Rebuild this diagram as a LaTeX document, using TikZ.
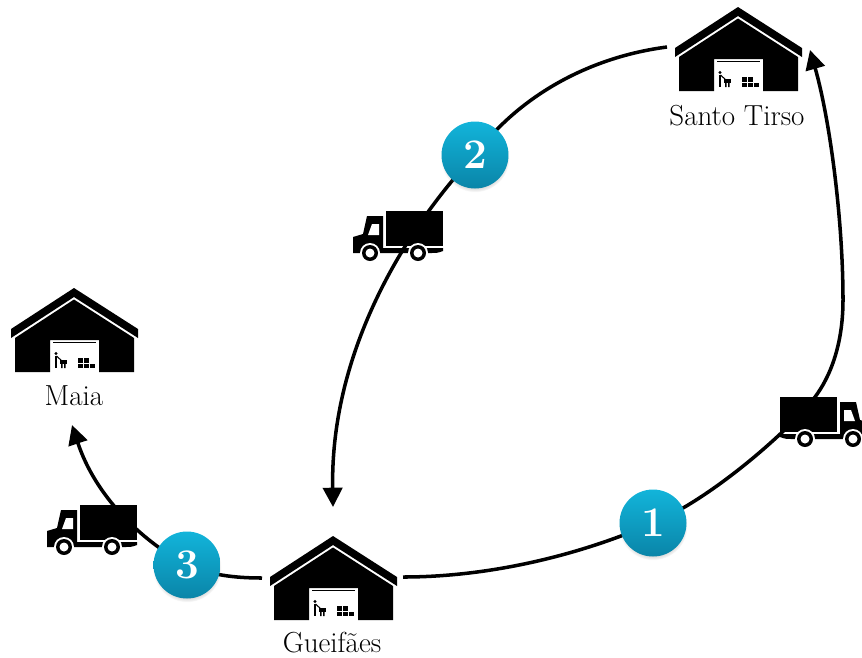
\documentclass[tikz,border=0pt]{standalone}
\usetikzlibrary{arrows.meta,shadows,backgrounds}
\definecolor{badgetop}{HTML}{12B4DA}
\definecolor{badgebottom}{HTML}{0A85A8}
\tikzset{
  route/.style={line width=2pt, black},
  routearrow/.style={route, -{Triangle[length=11pt, width=11pt]}},
  badge/.style={circle, minimum size=1.34cm, inner sep=0pt, top color=badgetop, bottom color=badgebottom,
    circular drop shadow={shadow xshift=0pt, shadow yshift=-1.5pt, shadow scale=1.03, opacity=0.35},
    text=white, font=\fontsize{24}{24}\selectfont\bfseries},
  place/.style={inner sep=0pt, font=\fontsize{16.5}{18}\selectfont},
  pics/depot/.style={code={
    \fill (-63,41) -- (0,0) -- (64,41) -- (64,50) -- (0,9) -- (-63,50) -- cycle;
    \fill (-59,50) -- (0,11.5) -- (60,50) -- (60,84) -- (25,84) -- (25,52) -- (-24,52) -- (-24,84) -- (-59,84) -- cycle;
    \fill (-21,53.5) rectangle (22,55);
    % man with trolley
    \fill (-18,65.5) circle [radius=1.6];
    \fill (-19.2,67.5) rectangle (-17.2,80);
    \draw[line width=0.6pt] (-17.5,68) -- (-12,73);
    \fill (-14,72) rectangle (-7,76);
    \fill (-13,76) rectangle (-11.3,80) (-10,76) rectangle (-8.3,80);
    % boxes
    \foreach \bx/\by in {4/70, 10/70, 4/75.5, 10/75.5, 16/75.5}
      \fill (\bx,\by) rectangle +(5.2,4.7);
  }},
  pics/truck/.style={code={
    \fill (0,0) rectangle (57,35);
    \fill (-33,42) -- (-33,26) -- (-23,23) -- (-19,5) -- (-3,5) -- (-3,37) -- (57,37) -- (57,40)
      .. controls (52,42) and (50,42) .. (45,42) -- cycle;
    \fill[white] (-18,24) -- (-14,13) -- (-7,13) -- (-7,24) -- cycle;
    \foreach \wx in {-16,32} {
      \fill[white] (\wx,42) circle [radius=10];
      \fill (\wx,42) circle [radius=8];
      \fill[white] (\wx,42) circle [radius=4.5];
    }
  }},
}
\begin{document}
\begin{tikzpicture}[x=0.02cm, y=-0.02cm]
  \useasboundingbox (0,0) rectangle (862,657);

  \coordinate (gueifaes out) at (403,577);
  \coordinate (gueifaes in) at (333,507);
  \coordinate (gueifaes back) at (262,578);
  \coordinate (tirso in) at (810,50);
  \coordinate (tirso out) at (667,47);
  \coordinate (maia in) at (72,425);
  \coordinate (bend low) at (815,397);
  \coordinate (bend high) at (843,300);

  \node[badge] (badge1) at (653,523) {1};
  \node[badge] (badge2) at (475,155) {2};
  \node[badge] (badge3) at (187,565) {3};

  \begin{scope}[on background layer]
    \draw[routearrow] (gueifaes out) .. controls (490,577) and (580,555) .. (badge1.center)
      .. controls (710,500) and (790,430) .. (bend low)
      .. controls (830,377) and (843,345) .. (bend high)
      .. controls (843,220) and (830,120) .. (tirso in);
    \draw[routearrow] (tirso out) .. controls (590,57) and (520,95) .. (badge2.center)
      .. controls (418,215) and (330,340) .. (gueifaes in);
    \draw[routearrow] (gueifaes back) .. controls (235,578) and (210,575) .. (badge3.center)
      .. controls (140,540) and (95,495) .. (maia in);
  \end{scope}

  \pic at (738,7) {depot};
  \pic at (74,288) {depot};
  \pic at (333,536) {depot};

  \pic at (386,211) {truck};
  \pic[xscale=-1] at (837,397) {truck};
  \pic at (80,505) {truck};

  \node[place] (tirso) at (737,116) {Santo Tirso};
  \node[place] (maia) at (74,396) {Maia};
  \node[place] (gueifaes) at (332,643) {Gueifães};
\end{tikzpicture}
\end{document}
